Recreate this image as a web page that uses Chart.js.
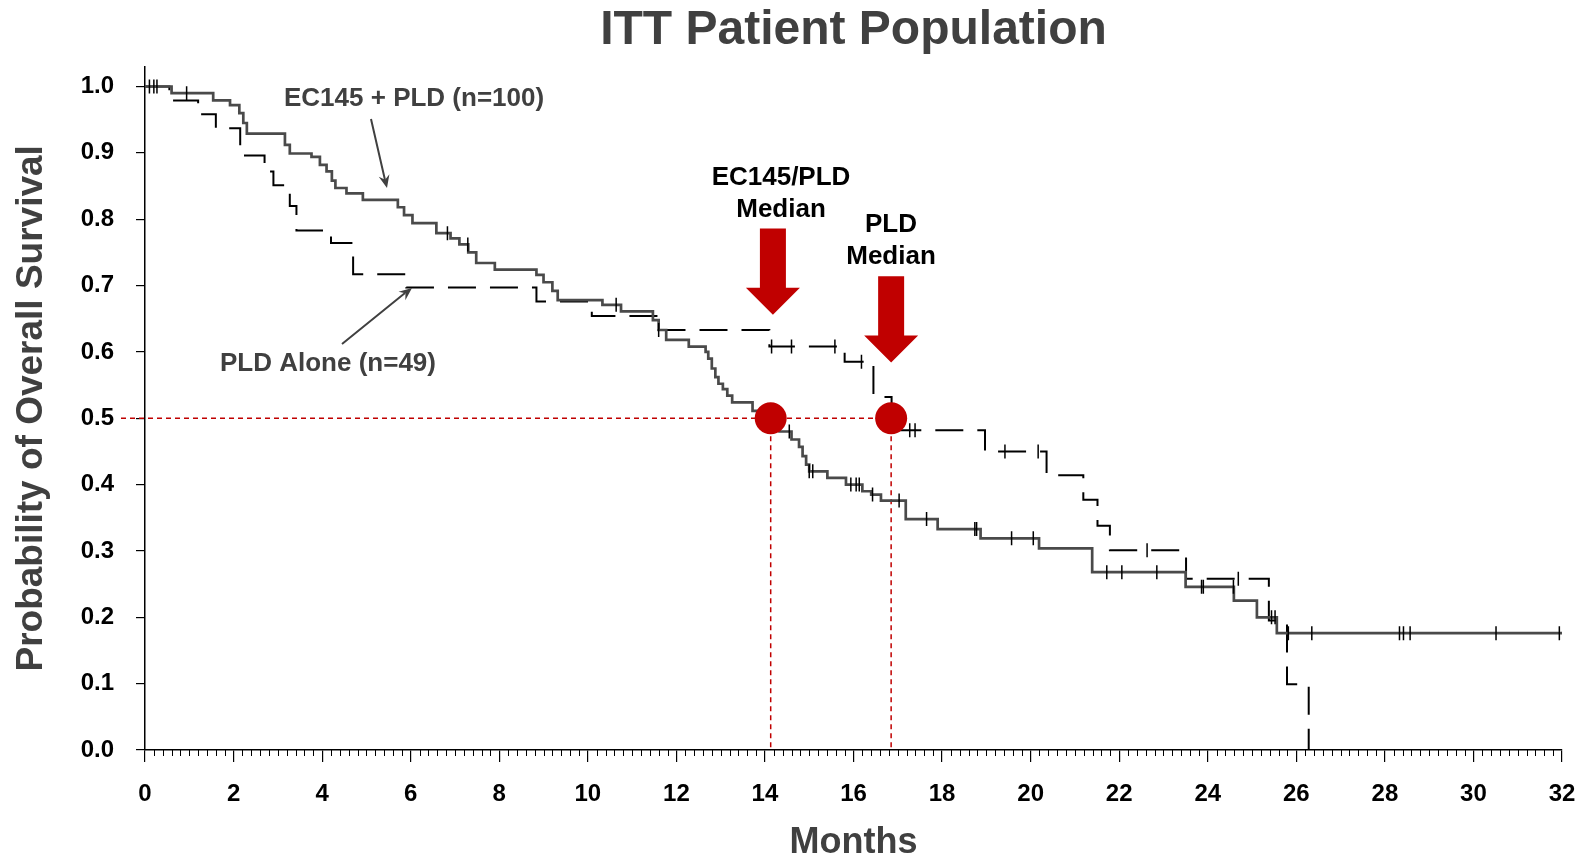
<!DOCTYPE html>
<html>
<head>
<meta charset="utf-8">
<title>ITT Patient Population</title>
<script src="https://cdn.jsdelivr.net/npm/chart.js@4.4.1/dist/chart.umd.min.js"></script>
<style>
  html, body { margin: 0; padding: 0; background: #fff; }
  #wrap { width: 1585px; height: 861px; }
</style>
</head>
<body>
<div id="wrap"><canvas id="osChart" width="1585" height="861"></canvas></div>
<script>
// KM steps: month the step starts, survival from there on
const ecMonths = [0, 0.6, 1.54, 1.92, 2.13, 2.22, 2.3, 3.16, 3.27, 3.76, 3.95, 4.1, 4.22, 4.3, 4.55, 4.92,
  5.71, 5.85, 6.04, 6.58, 6.9, 7.1, 7.3, 7.48, 7.9, 8.84, 9.0, 9.2, 9.32, 10.33, 10.75, 11.47, 11.6,
  11.77, 12.28, 12.66, 12.72, 12.8, 12.88, 12.95, 13.05, 13.15, 13.26, 13.72, 14.0, 14.15, 14.33,
  14.6, 14.77, 14.85, 14.93, 15.0, 15.41, 15.83, 16.2, 16.4, 16.62, 17.18, 17.9, 18.87, 20.19,
  21.39, 23.5, 24.59, 25.11, 25.56, 32];
const ecSurv = [1.0, 0.99, 0.979, 0.972, 0.96, 0.945, 0.929, 0.912, 0.899, 0.894, 0.882, 0.872, 0.858, 0.847, 0.839, 0.829,
  0.818, 0.806, 0.794, 0.779, 0.771, 0.762, 0.75, 0.734, 0.724, 0.716, 0.705, 0.692, 0.678, 0.671, 0.661, 0.648, 0.633,
  0.618, 0.608, 0.6, 0.59, 0.575, 0.562, 0.552, 0.544, 0.534, 0.524, 0.511, 0.5, 0.49, 0.48,
  0.468, 0.457, 0.443, 0.43, 0.42, 0.41, 0.4, 0.39, 0.385, 0.376, 0.348, 0.333, 0.319, 0.304,
  0.268, 0.246, 0.225, 0.2, 0.176, 0.176];
const ecCensored = [0.1, 0.2, 0.27, 0.94, 6.83, 7.29, 10.64, 14.55, 15.0, 15.08, 15.94, 16.06, 16.13, 16.43,
  17.03, 17.65, 18.74, 18.78, 19.57, 20.06, 21.72, 22.06, 22.85, 23.86, 23.9, 24.58, 25.44, 25.52,
  25.82, 26.35, 28.33, 28.42, 28.57, 30.51, 31.94];

const pldMonths = [0, 0.55, 1.2, 1.6, 2.15, 2.7, 2.9, 3.27, 3.42, 4.2, 4.7, 5.9, 8.84, 10.09, 11.55, 14.1,
  15.8, 16.45, 16.86, 18.97, 20.36, 21.19, 21.51, 21.79, 23.51, 25.38, 25.79, 26.28];
const pldSurv = [1.0, 0.979, 0.958, 0.937, 0.896, 0.872, 0.851, 0.82, 0.783, 0.764, 0.717, 0.697, 0.676, 0.654, 0.633, 0.608,
  0.585, 0.532, 0.482, 0.45, 0.414, 0.377, 0.338, 0.301, 0.258, 0.195, 0.099, 0];
const pldCensored = [11.6, 14.15, 14.6, 15.58, 16.18, 17.27, 17.39, 19.42, 20.17, 22.63, 24.69];

const medianMonths = [14.13, 16.85];
const medianLevel = 0.5;

const xTicks = [0, 2, 4, 6, 8, 10, 12, 14, 16, 18, 20, 22, 24, 26, 28, 30, 32];
const yTicks = [0, 0.1, 0.2, 0.3, 0.4, 0.5, 0.6, 0.7, 0.8, 0.9, 1.0];

const FONT = "'Liberation Sans', Arial, sans-serif";
const RED = '#c00000';

function survivalAt(months, surv, t) {
  let s = surv[0];
  for (let i = 0; i < months.length; i++) {
    if (months[i] <= t) s = surv[i];
  }
  return s;
}

function toPoints(xs, ys) {
  return xs.map((x, i) => ({ x: x, y: ys[i] }));
}

function censorPoints(times, months, surv) {
  return times.map(t => ({ x: t, y: survivalAt(months, surv, t) }));
}

function arrowHead(ctx, x1, y1, x2, y2, size) {
  const a = Math.atan2(y2 - y1, x2 - x1);
  ctx.beginPath();
  ctx.moveTo(x2, y2);
  ctx.lineTo(x2 - size * Math.cos(a - 0.4), y2 - size * Math.sin(a - 0.4));
  ctx.lineTo(x2 - size * 0.6 * Math.cos(a), y2 - size * 0.6 * Math.sin(a));
  ctx.lineTo(x2 - size * Math.cos(a + 0.4), y2 - size * Math.sin(a + 0.4));
  ctx.closePath();
  ctx.fill();
}

function bigDownArrow(ctx, cx, topY, tipY) {
  const shaftHalf = 13, headHalf = 27, headH = 27;
  ctx.beginPath();
  ctx.moveTo(cx - shaftHalf, topY);
  ctx.lineTo(cx + shaftHalf, topY);
  ctx.lineTo(cx + shaftHalf, tipY - headH);
  ctx.lineTo(cx + headHalf, tipY - headH);
  ctx.lineTo(cx, tipY);
  ctx.lineTo(cx - headHalf, tipY - headH);
  ctx.lineTo(cx - shaftHalf, tipY - headH);
  ctx.closePath();
  ctx.fill();
}

// red median guides under the curves
const medianGuides = {
  id: 'medianGuides',
  beforeDatasetsDraw(chart) {
    const { ctx, chartArea, scales: { x, y } } = chart;
    const yy = y.getPixelForValue(medianLevel);
    ctx.save();
    ctx.strokeStyle = RED;
    ctx.lineWidth = 1.5;
    ctx.setLineDash([5, 4]);
    ctx.beginPath();
    ctx.moveTo(chartArea.left - 24, yy);
    ctx.lineTo(x.getPixelForValue(medianMonths[1]), yy);
    medianMonths.forEach(m => {
      const xx = x.getPixelForValue(m);
      ctx.moveTo(xx, yy);
      ctx.lineTo(xx, chartArea.bottom);
    });
    ctx.stroke();
    ctx.restore();
  }
};

// minor ticks, arrows and labels
const extras = {
  id: 'extras',
  afterDraw(chart) {
    const { ctx, chartArea, scales: { x, y } } = chart;
    ctx.save();

    // minor month ticks every 0.2
    ctx.strokeStyle = '#000';
    ctx.lineWidth = 1;
    ctx.beginPath();
    for (let i = 1; i < 160; i++) {
      if (i % 10 === 0) continue;
      const xx = Math.round(x.getPixelForValue(i / 5)) + 0.5;
      ctx.moveTo(xx, chartArea.bottom);
      ctx.lineTo(xx, chartArea.bottom + 6);
    }
    ctx.stroke();

    // big red arrows pointing at the medians
    ctx.fillStyle = RED;
    bigDownArrow(ctx, x.getPixelForValue(14.18), y.getPixelForValue(0.786), y.getPixelForValue(0.656));
    bigDownArrow(ctx, x.getPixelForValue(16.85), y.getPixelForValue(0.714), y.getPixelForValue(0.584));

    ctx.textAlign = 'center';
    ctx.textBaseline = 'middle';
    ctx.fillStyle = '#000';
    ctx.font = 'bold 26px ' + FONT;
    ctx.fillText('EC145/PLD', 781, 178);
    ctx.fillText('Median', 781, 210);
    ctx.fillText('PLD', 891, 225);
    ctx.fillText('Median', 891, 257);

    // series labels with pointer arrows
    ctx.fillStyle = '#404040';
    ctx.strokeStyle = '#404040';
    ctx.textAlign = 'left';
    ctx.fillText('EC145 + PLD (n=100)', 284, 99);
    ctx.fillText('PLD Alone (n=49)', 220, 364);
    ctx.lineWidth = 2;
    ctx.beginPath();
    ctx.moveTo(371, 119);
    ctx.lineTo(385, 180);
    ctx.moveTo(342, 344);
    ctx.lineTo(405, 293);
    ctx.stroke();
    arrowHead(ctx, 371, 119, 387, 188, 14);
    arrowHead(ctx, 342, 344, 412, 288, 14);

    ctx.restore();
  }
};

const ctx = document.getElementById('osChart').getContext('2d');
new Chart(ctx, {
  type: 'scatter',
  data: {
    datasets: [
      {
        label: 'Medians',
        data: medianMonths.map(m => ({ x: m, y: medianLevel })),
        pointRadius: 16,
        pointBackgroundColor: RED,
        pointBorderWidth: 0,
        order: 0
      },
      {
        label: 'EC145 + PLD (n=100)',
        data: toPoints(ecMonths, ecSurv),
        showLine: true,
        stepped: true,
        borderColor: '#4a4a4a',
        borderWidth: 2.7,
        pointRadius: 0,
        order: 2
      },
      {
        label: 'PLD Alone (n=49)',
        data: toPoints(pldMonths, pldSurv),
        showLine: true,
        stepped: true,
        borderColor: '#000',
        borderWidth: 2,
        borderDash: [28, 14],
        pointRadius: 0,
        order: 3
      },
      {
        label: 'EC145 censored',
        data: censorPoints(ecCensored, ecMonths, ecSurv),
        pointStyle: 'line',
        rotation: 90,
        pointRadius: 7,
        borderColor: '#000',
        pointBorderWidth: 1.5,
        order: 1
      },
      {
        label: 'PLD censored',
        data: censorPoints(pldCensored, pldMonths, pldSurv),
        pointStyle: 'line',
        rotation: 90,
        pointRadius: 7,
        borderColor: '#000',
        pointBorderWidth: 1.5,
        order: 1
      }
    ]
  },
  options: {
    responsive: false,
    animation: false,
    layout: { padding: { right: 23, left: 0, top: 0, bottom: 0 } },
    plugins: {
      legend: { display: false },
      tooltip: { enabled: false },
      title: {
        display: true,
        fullSize: false,
        text: 'ITT Patient Population',
        color: '#404040',
        font: { family: FONT, size: 48, weight: 'bold', lineHeight: 1.2 },
        padding: { top: 2, bottom: 7 }
      }
    },
    scales: {
      x: {
        type: 'linear',
        min: 0,
        max: 32,
        afterBuildTicks: scale => { scale.ticks = xTicks.map(v => ({ value: v })); },
        afterFit: scale => {
          scale.height = 111;
          scale.paddingLeft = 0;
          scale.paddingRight = 0;
        },
        grid: { drawOnChartArea: false, drawTicks: true, tickLength: 12, color: '#000', lineWidth: 1.2 },
        border: { display: true, color: '#000', width: 1.5 },
        ticks: {
          color: '#000',
          padding: 18,
          maxRotation: 0,
          font: { family: FONT, size: 24, weight: 'bold' },
          callback: v => String(v)
        },
        title: {
          display: true,
          text: 'Months',
          color: '#404040',
          font: { family: FONT, size: 36, weight: 'bold', lineHeight: 1 },
          padding: { top: 0, bottom: 0 }
        }
      },
      y: {
        type: 'linear',
        min: 0,
        max: 1.03,
        afterBuildTicks: scale => { scale.ticks = yTicks.map(v => ({ value: v })); },
        afterFit: scale => { scale.width = 145; },
        grid: { drawOnChartArea: false, drawTicks: true, tickLength: 9, color: '#000', lineWidth: 1.2 },
        border: { display: true, color: '#000', width: 1.5 },
        ticks: {
          color: '#000',
          padding: 22,
          font: { family: FONT, size: 24, weight: 'bold' },
          callback: v => v.toFixed(1)
        },
        title: {
          display: true,
          text: 'Probability of Overall Survival',
          color: '#404040',
          font: { family: FONT, size: 37, weight: 'bold', lineHeight: 1.2 },
          padding: { top: 10, bottom: 0 }
        }
      }
    }
  },
  plugins: [medianGuides, extras]
});
</script>
</body>
</html>
